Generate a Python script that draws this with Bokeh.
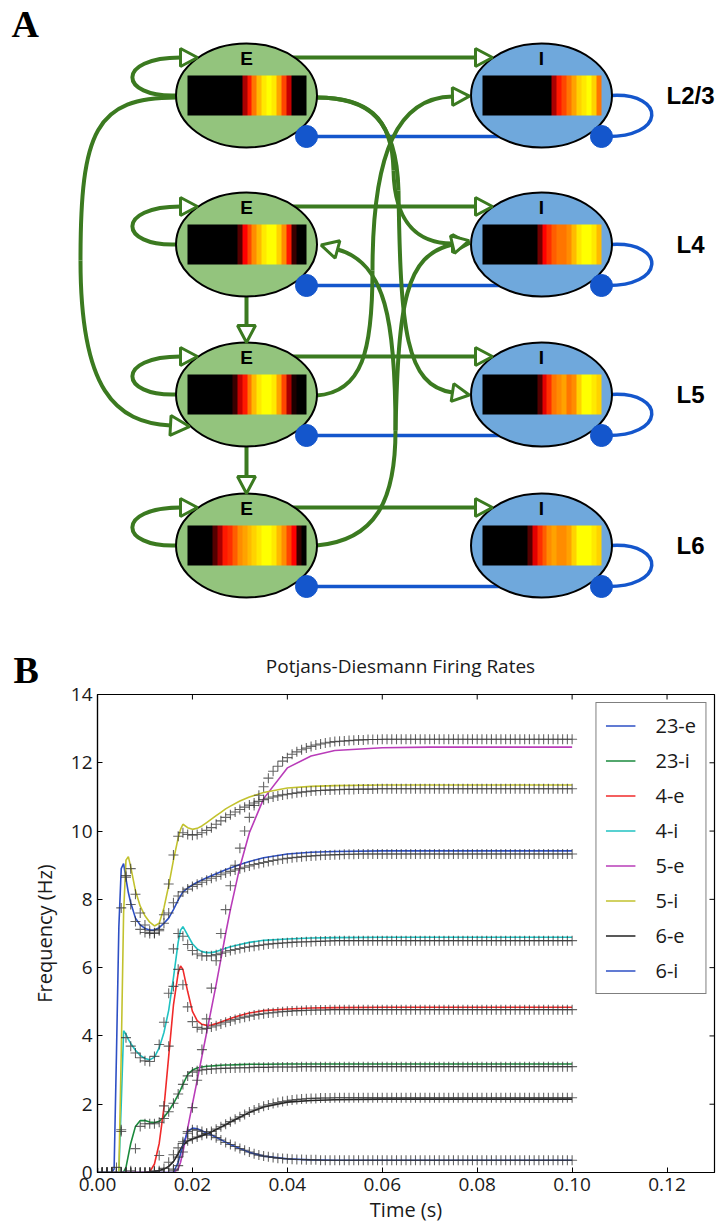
import numpy as np
from bokeh.plotting import figure
from bokeh.models import (Range1d, Legend, LegendItem, LinearAxis,
                          FixedTicker, PrintfTickFormatter, LinearColorMapper)
from bokeh.layouts import column
from bokeh.embed import file_html
from bokeh.resources import INLINE
from bokeh.core.properties import value

# ===================== DATA : panel A (network diagram) =====================
layer_names = ["L2/3", "L4", "L5", "L6"]
exc_name = "E"
inh_name = "I"

# activity profiles shown inside each population (0 = black, 1 = yellow)
heat_e23 = [0, 0, 0, 0, 0, 0, 0, 0, 0, 0, 0, 0.3, 0.5, 0.7, 0.85, 0.95, 1.0, 0.95, 0.8, 0.6, 0.35, 0, 0, 0]
heat_e4 = [0, 0, 0, 0, 0, 0, 0, 0, 0, 0, 0.15, 0.45, 0.6, 0.75, 0.85, 0.95, 1.0, 1.0, 0.9, 0.75, 0.5, 0.1, 0, 0]
heat_e5 = [0, 0, 0, 0, 0, 0, 0, 0, 0, 0.1, 0.35, 0.5, 0.7, 0.85, 0.95, 1.0, 1.0, 0.95, 0.8, 0.6, 0.3, 0.05, 0, 0]
heat_e6 = [0, 0, 0, 0, 0, 0.15, 0.3, 0.5, 0.55, 0.65, 0.75, 0.8, 0.85, 0.9, 0.95, 1.0, 1.0, 0.95, 0.85, 0.75, 0.6, 0.45, 0.1, 0]
heat_i23 = [0, 0, 0, 0, 0, 0, 0, 0, 0, 0, 0, 0, 0, 0, 0.3, 0.5, 0.6, 0.7, 0.8, 0.9, 0.95, 1.0, 0.9, 0.7]
heat_i4 = [0, 0, 0, 0, 0, 0, 0, 0, 0, 0, 0, 0.2, 0.45, 0.55, 0.65, 0.7, 0.7, 0.75, 0.85, 0.95, 1.0, 1.0, 0.95, 0.85]
heat_i5 = [0, 0, 0, 0, 0, 0, 0, 0, 0, 0, 0, 0.15, 0.4, 0.55, 0.7, 0.75, 0.8, 0.7, 0.75, 0.9, 1.0, 1.0, 0.95, 0.9]
heat_i6 = [0, 0, 0, 0, 0, 0, 0, 0, 0, 0.15, 0.4, 0.55, 0.65, 0.75, 0.8, 0.75, 0.75, 0.8, 0.9, 1.0, 1.0, 1.0, 0.95, 0.9]
heat_exc = [heat_e23, heat_e4, heat_e5, heat_e6]
heat_inh = [heat_i23, heat_i4, heat_i5, heat_i6]

# ===================== DATA : panel B (firing rates) =====================
chart_title = "Potjans-Diesmann Firing Rates"
series_names = ["23-e", "23-i", "4-e", "4-i", "5-e", "5-i", "6-e", "6-i"]
x_tick_values = [0.0, 0.02, 0.04, 0.06, 0.08, 0.10, 0.12]
y_tick_values = [0, 2, 4, 6, 8, 10, 12, 14]

t_model = [0.0, 0.001, 0.002, 0.003,
           0.0035, 0.004, 0.0045, 0.005, 0.0055, 0.006, 0.0065, 0.007,
           0.008, 0.009, 0.010, 0.011, 0.012, 0.013, 0.014, 0.015, 0.016, 0.017,
           0.0175,
           0.018, 0.019, 0.020, 0.021, 0.022, 0.023, 0.024, 0.025, 0.026, 0.027, 0.028,
           0.030, 0.032, 0.035, 0.040, 0.045, 0.050, 0.060, 0.070, 0.080, 0.100]

model_23e = [0, 0, 0, 0,
             0.1, 3.5, 7.2, 8.9, 9.05, 8.6, 8.2, 7.9,
             7.45, 7.25, 7.15, 7.1, 7.1, 7.17, 7.3, 7.45, 7.7, 7.98,
             8.1,
             8.22, 8.33, 8.42, 8.5, 8.57, 8.63, 8.69, 8.75, 8.81, 8.87, 8.92,
             9.02, 9.11, 9.22, 9.33, 9.38, 9.4, 9.42, 9.42, 9.42, 9.42]
model_23i = [0, 0, 0, 0,
             0, 0, 0, 0, 0.02, 0.15, 0.5, 0.85,
             1.35, 1.52, 1.52, 1.48, 1.46, 1.5, 1.62, 1.8, 2.02, 2.28,
             2.42,
             2.58, 2.87, 3.0, 3.06, 3.09, 3.11, 3.12, 3.13, 3.14, 3.15, 3.15,
             3.16, 3.17, 3.17, 3.18, 3.18, 3.18, 3.18, 3.18, 3.18, 3.18]
model_4e = [0, 0, 0, 0,
            0, 0, 0, 0, 0, 0, 0, 0,
            0, 0, 0, 0.02, 0.25, 0.85, 1.9, 3.4, 4.9, 5.85,
            6.05,
            5.95, 5.3, 4.72, 4.45, 4.34, 4.31, 4.32, 4.36, 4.41, 4.46, 4.51,
            4.6, 4.67, 4.74, 4.79, 4.82, 4.83, 4.84, 4.84, 4.84, 4.84]
model_4i = [0, 0, 0, 0,
            0, 0, 0, 2.0, 4.15, 4.05, 3.9, 3.78,
            3.58, 3.43, 3.34, 3.3, 3.38, 3.65, 4.1, 4.75, 5.7, 6.75,
            7.1,
            7.2, 6.95, 6.7, 6.55, 6.47, 6.44, 6.44, 6.47, 6.52, 6.57, 6.61,
            6.68, 6.74, 6.8, 6.84, 6.87, 6.88, 6.89, 6.89, 6.89, 6.89]
model_5e = [0, 0, 0, 0,
            0, 0, 0, 0, 0, 0, 0, 0,
            0, 0, 0, 0, 0, 0, 0, 0, 0, 0.1,
            0.3,
            0.6, 1.3, 2.0, 2.7, 3.4, 4.1, 4.8, 5.5, 6.25, 7.0, 7.7,
            8.95, 9.95, 10.95, 11.85, 12.2, 12.36, 12.44, 12.46, 12.46, 12.46]
model_5i = [0, 0, 0, 0,
            0, 0, 0, 3.5, 7.6, 9.15, 9.25, 8.95,
            8.25, 7.8, 7.52, 7.33, 7.22, 7.3, 7.75, 8.4, 9.15, 9.8,
            10.05,
            10.2, 10.1, 10.05, 10.08, 10.15, 10.25, 10.35, 10.45, 10.55, 10.65, 10.73,
            10.88, 11.0, 11.13, 11.26, 11.31, 11.33, 11.35, 11.35, 11.35, 11.35]
model_6e = [0, 0, 0, 0,
            0, 0, 0, 0, 0, 0, 0, 0,
            0, 0, 0, 0.01, 0.03, 0.06, 0.1, 0.18, 0.32, 0.55,
            0.68,
            0.8, 0.92, 0.98, 1.03, 1.08, 1.13, 1.19, 1.26, 1.33, 1.4, 1.48,
            1.62, 1.76, 1.92, 2.06, 2.11, 2.13, 2.15, 2.15, 2.15, 2.15]
model_6i = [0, 0, 0, 0,
            0, 0, 0, 0, 0, 0, 0, 0,
            0, 0, 0, 0, 0, 0, 0, 0, 0, 0.3,
            0.55,
            0.8, 1.2, 1.3, 1.28, 1.22, 1.16, 1.1, 1.03, 0.96, 0.89, 0.82,
            0.7, 0.59, 0.48, 0.4, 0.37, 0.36, 0.36, 0.36, 0.36, 0.36]

# simulation samples, one every millisecond from 0.000 s to 0.100 s
t_sim = [round(0.001 * k, 3) for k in range(101)]

sim_23e = [0, 0, 0, 0, 0.15, 7.75, 8.65, 7.85, 7.35, 7.12,
           7.03, 7.0, 7.0, 7.08, 7.3, 7.6, 7.9, 8.1, 8.22, 8.3,
           8.38, 8.44, 8.5, 8.56, 8.62, 8.67, 8.72, 8.77, 8.82, 8.86,
           8.9, 8.94, 8.98, 9.02, 9.05, 9.08, 9.11, 9.14, 9.16, 9.18,
           9.2, 9.22, 9.23, 9.25, 9.26, 9.27, 9.28, 9.29, 9.3, 9.3,
           9.31, 9.31, 9.32, 9.32, 9.32, 9.33, 9.33, 9.33, 9.33, 9.33,
           9.33, 9.33, 9.33, 9.33, 9.33, 9.33, 9.33, 9.33, 9.33, 9.33,
           9.33, 9.33, 9.33, 9.33, 9.33, 9.33, 9.33, 9.33, 9.33, 9.33,
           9.33, 9.33, 9.33, 9.33, 9.33, 9.33, 9.33, 9.33, 9.33, 9.33,
           9.33, 9.33, 9.33, 9.33, 9.33, 9.33, 9.33, 9.33, 9.33, 9.33,
           9.33]
sim_23i = [0, 0, 0, 0, 0, 0, 0, 0.05, 0.7, 1.35,
           1.43, 1.43, 1.43, 1.47, 1.58, 1.78, 2.03, 2.3, 2.58, 2.83,
           2.94, 2.98, 3.0, 3.02, 3.03, 3.04, 3.05, 3.05, 3.06, 3.06,
           3.07, 3.07, 3.07, 3.08, 3.08, 3.08, 3.08, 3.09, 3.09, 3.09,
           3.09, 3.09, 3.09, 3.1, 3.1, 3.1, 3.1, 3.1, 3.1, 3.1,
           3.1, 3.1, 3.1, 3.1, 3.1, 3.1, 3.1, 3.1, 3.1, 3.1,
           3.1, 3.1, 3.1, 3.1, 3.1, 3.1, 3.1, 3.1, 3.1, 3.1,
           3.1, 3.1, 3.1, 3.1, 3.1, 3.1, 3.1, 3.1, 3.1, 3.1,
           3.1, 3.1, 3.1, 3.1, 3.1, 3.1, 3.1, 3.1, 3.1, 3.1,
           3.1, 3.1, 3.1, 3.1, 3.1, 3.1, 3.1, 3.1, 3.1, 3.1,
           3.1]
sim_4e = [0, 0, 0, 0, 0, 0, 0, 0, 0, 0,
          0, 0, 0.05, 0.5, 1.95, 3.7, 5.45, 5.95, 5.5, 4.85,
          4.42, 4.25, 4.2, 4.22, 4.26, 4.3, 4.35, 4.4, 4.44, 4.48,
          4.52, 4.55, 4.58, 4.61, 4.63, 4.65, 4.67, 4.68, 4.7, 4.71,
          4.72, 4.73, 4.74, 4.74, 4.75, 4.75, 4.76, 4.76, 4.76, 4.77,
          4.77, 4.77, 4.77, 4.77, 4.77, 4.77, 4.77, 4.77, 4.77, 4.77,
          4.77, 4.77, 4.77, 4.77, 4.77, 4.77, 4.77, 4.77, 4.77, 4.77,
          4.77, 4.77, 4.77, 4.77, 4.77, 4.77, 4.77, 4.77, 4.77, 4.77,
          4.77, 4.77, 4.77, 4.77, 4.77, 4.77, 4.77, 4.77, 4.77, 4.77,
          4.77, 4.77, 4.77, 4.77, 4.77, 4.77, 4.77, 4.77, 4.77, 4.77,
          4.77]
sim_4i = [0, 0, 0, 0, 0, 1.2, 3.95, 3.7, 3.5, 3.36,
          3.27, 3.25, 3.4, 3.75, 4.4, 5.25, 6.55, 7.0, 6.92, 6.68,
          6.5, 6.4, 6.35, 6.34, 6.35, 6.38, 6.42, 6.46, 6.5, 6.53,
          6.56, 6.59, 6.61, 6.63, 6.65, 6.67, 6.69, 6.7, 6.71, 6.72,
          6.73, 6.74, 6.75, 6.75, 6.76, 6.76, 6.77, 6.77, 6.78, 6.78,
          6.79, 6.79, 6.79, 6.79, 6.79, 6.79, 6.79, 6.79, 6.79, 6.79,
          6.79, 6.79, 6.79, 6.79, 6.79, 6.79, 6.79, 6.79, 6.79, 6.79,
          6.79, 6.79, 6.79, 6.79, 6.79, 6.79, 6.79, 6.79, 6.79, 6.79,
          6.79, 6.79, 6.79, 6.79, 6.79, 6.79, 6.79, 6.79, 6.79, 6.79,
          6.79, 6.79, 6.79, 6.79, 6.79, 6.79, 6.79, 6.79, 6.79, 6.79,
          6.79]
sim_5e = [0, 0, 0, 0, 0, 0, 0, 0, 0, 0,
          0, 0, 0, 0, 0, 0, 0.05, 0.2, 0.6, 1.2,
          1.9, 2.7, 3.6, 4.5, 5.4, 6.2, 7.0, 7.7, 8.4, 9.0,
          9.5, 10.0, 10.4, 10.75, 11.05, 11.3, 11.55, 11.75, 11.9, 12.05,
          12.15, 12.25, 12.32, 12.38, 12.43, 12.48, 12.52, 12.55, 12.58, 12.6,
          12.62, 12.63, 12.64, 12.65, 12.66, 12.67, 12.67, 12.68, 12.68, 12.68,
          12.69, 12.69, 12.69, 12.69, 12.69, 12.69, 12.69, 12.69, 12.69, 12.69,
          12.69, 12.69, 12.69, 12.69, 12.69, 12.69, 12.69, 12.69, 12.69, 12.69,
          12.69, 12.69, 12.69, 12.69, 12.69, 12.69, 12.69, 12.69, 12.69, 12.69,
          12.69, 12.69, 12.69, 12.69, 12.69, 12.69, 12.69, 12.69, 12.69, 12.69,
          12.69]
sim_5i = [0, 0, 0, 0, 0, 1.25, 8.7, 8.9, 8.15, 7.6,
          7.25, 7.08, 7.02, 7.12, 7.55, 8.45, 9.3, 9.85, 9.95, 9.9,
          9.88, 9.9, 9.95, 10.02, 10.1, 10.2, 10.3, 10.4, 10.48, 10.56,
          10.63, 10.7, 10.76, 10.82, 10.87, 10.92, 10.96, 11.0, 11.03, 11.06,
          11.08, 11.1, 11.12, 11.14, 11.15, 11.17, 11.18, 11.19, 11.2, 11.2,
          11.21, 11.21, 11.22, 11.22, 11.22, 11.23, 11.23, 11.23, 11.23, 11.24,
          11.24, 11.24, 11.24, 11.24, 11.24, 11.24, 11.24, 11.24, 11.24, 11.24,
          11.24, 11.24, 11.24, 11.24, 11.24, 11.24, 11.24, 11.24, 11.24, 11.24,
          11.24, 11.24, 11.24, 11.24, 11.24, 11.24, 11.24, 11.24, 11.24, 11.24,
          11.24, 11.24, 11.24, 11.24, 11.24, 11.24, 11.24, 11.24, 11.24, 11.24,
          11.24]
sim_6e = [0, 0, 0, 0, 0, 0, 0, 0, 0, 0,
          0, 0.01, 0.02, 0.05, 0.12, 0.3, 0.52, 0.72, 0.85, 0.93,
          0.99, 1.04, 1.09, 1.14, 1.2, 1.27, 1.34, 1.41, 1.49, 1.56,
          1.63, 1.7, 1.77, 1.83, 1.89, 1.94, 1.98, 2.02, 2.05, 2.08,
          2.1, 2.12, 2.14, 2.15, 2.16, 2.17, 2.17, 2.18, 2.18, 2.18,
          2.19, 2.19, 2.19, 2.19, 2.19, 2.19, 2.19, 2.19, 2.19, 2.19,
          2.19, 2.19, 2.19, 2.19, 2.19, 2.19, 2.19, 2.19, 2.19, 2.19,
          2.19, 2.19, 2.19, 2.19, 2.19, 2.19, 2.19, 2.19, 2.19, 2.19,
          2.19, 2.19, 2.19, 2.19, 2.19, 2.19, 2.19, 2.19, 2.19, 2.19,
          2.19, 2.19, 2.19, 2.19, 2.19, 2.19, 2.19, 2.19, 2.19, 2.19,
          2.19]
sim_6i = [0, 0, 0, 0, 0, 0, 0, 0, 0, 0,
          0, 0, 0, 0, 0, 0, 0.1, 0.45, 0.9, 1.15,
          1.25, 1.24, 1.2, 1.15, 1.09, 1.02, 0.95, 0.88, 0.82, 0.76,
          0.7, 0.65, 0.6, 0.55, 0.51, 0.48, 0.46, 0.44, 0.42, 0.41,
          0.4, 0.39, 0.38, 0.38, 0.37, 0.37, 0.37, 0.36, 0.36, 0.36,
          0.36, 0.36, 0.36, 0.36, 0.36, 0.36, 0.36, 0.36, 0.36, 0.36,
          0.36, 0.36, 0.36, 0.36, 0.36, 0.36, 0.36, 0.36, 0.36, 0.36,
          0.36, 0.36, 0.36, 0.36, 0.36, 0.36, 0.36, 0.36, 0.36, 0.36,
          0.36, 0.36, 0.36, 0.36, 0.36, 0.36, 0.36, 0.36, 0.36, 0.36,
          0.36, 0.36, 0.36, 0.36, 0.36, 0.36, 0.36, 0.36, 0.36, 0.36,
          0.36]

model_series = [model_23e, model_23i, model_4e, model_4i, model_5e, model_5i, model_6e, model_6i]
sim_series = [sim_23e, sim_23i, sim_4e, sim_4i, sim_5e, sim_5i, sim_6e, sim_6i]

# ===================== STYLE =====================
W = 718
HA = 690      # diagram + header band of panel B
OVERLAP = 12  # chart figure slides up under the header band (transparent border)
HB = 1225 - HA + OVERLAP
GREEN = "#3b7a20"
BLUE = "#1456cc"
E_FILL = "#93c47d"
I_FILL = "#6fa8dc"
SANS = "Liberation Sans"
FONT_B = "Open Sans"
LINE_COLORS = ["#2d4fc4", "#1a8a3c", "#f02a2a", "#20c2c2", "#b93cb9", "#c2c22e", "#222222", "#2d4fc4"]

EX, IX = 246, 541            # centre x of E and I populations (px)
ROW_Y = [95, 244, 394, 545]  # centre y of each layer (px, from top)
EW, EH = 141, 104


def hot(v):
    r = min(1.0, v / 0.45)
    g = max(0.0, (v - 0.45) / 0.55)
    return "#%02x%02x%02x" % (int(round(255 * r)), int(round(255 * g)), 0)


HOT256 = [hot(i / 255.0) for i in range(256)]


def Y(ypx):
    return HA - ypx


# ===================== PANEL A =====================
pa = figure(width=W, height=HA, x_range=Range1d(0, W), y_range=Range1d(0, HA),
            output_backend="svg", toolbar_location=None, min_border=0,
            x_axis_location=None, y_axis_location=None)
pa.grid.visible = False
pa.outline_line_color = None
pa.background_fill_color = "white"

segs = []
heads = []


def curve(pts, head=True, L=17.0, hw=9.0):
    for k in range(0, len(pts) - 1, 3):
        segs.append(pts[k:k + 4])
    if head:
        (cx, cy), (ex_, ey_) = pts[-2], pts[-1]
        d = np.array([ex_ - cx, ey_ - cy], float)
        d /= np.hypot(d[0], d[1])
        n = np.array([-d[1], d[0]])
        b = np.array([ex_, ey_], float)
        tip = b + L * d
        heads.append([tuple(tip), tuple(b + hw * n), tuple(b - hw * n)])


def straight(p0, p1, **kw):
    p0 = np.array(p0, float)
    p1 = np.array(p1, float)
    curve([tuple(p0), tuple(p0 + (p1 - p0) / 3), tuple(p0 + 2 * (p1 - p0) / 3), tuple(p1)], **kw)


for y in ROW_Y:
    curve([(EX - 70, y), (EX - 128, y + 2), (EX - 131, y - 38), (EX - 66, y - 38)])
    straight((EX, y - 38), (IX - 66, y - 38))
straight((EX, ROW_Y[1] + EH / 2), (EX, ROW_Y[2] - EH / 2 - 17))
straight((EX, ROW_Y[2] + EH / 2), (EX, ROW_Y[3] - EH / 2 - 17))
# L2/3 E -> L5 E
curve([(176, 97), (95, 97), (80, 130), (80, 260), (80, 390), (115, 422), (170, 425)], L=19, hw=10)
# L2/3 E -> L4 I
curve([(316, 97), (365, 97), (392, 115), (393, 170), (394, 225), (420, 243), (452, 243)])
# L2/3 E -> L5 I
curve([(316, 97), (368, 97), (396, 118), (398, 190), (400, 330), (405, 385), (452, 392)])
# L5 E -> L2/3 I
curve([(316, 395), (362, 392), (372, 350), (372, 270), (372, 150), (398, 97), (452, 96)])
# L6 E -> L4 E
curve([(316, 545), (375, 540), (395, 500), (395, 430), (395, 320), (385, 262), (337, 249)])
# L6 E -> L4 I
curve([(395, 430), (398, 300), (405, 255), (452, 244)])

# inhibitory projections (drawn first, below)
pa.segment(x0=[EX + 60] * 4, y0=[Y(y + 41) for y in ROW_Y],
           x1=[IX] * 4, y1=[Y(y + 41) for y in ROW_Y],
           line_color=BLUE, line_width=3.5)
pa.bezier(x0=[IX + 70] * 4, y0=[Y(y) for y in ROW_Y],
          cx0=[IX + 125] * 4, cy0=[Y(y - 3) for y in ROW_Y],
          cx1=[IX + 125] * 4, cy1=[Y(y + 43) for y in ROW_Y],
          x1=[IX + 62] * 4, y1=[Y(y + 41) for y in ROW_Y],
          line_color=BLUE, line_width=3.5)

# excitatory projections
pa.bezier(x0=[s[0][0] for s in segs], y0=[Y(s[0][1]) for s in segs],
          cx0=[s[1][0] for s in segs], cy0=[Y(s[1][1]) for s in segs],
          cx1=[s[2][0] for s in segs], cy1=[Y(s[2][1]) for s in segs],
          x1=[s[3][0] for s in segs], y1=[Y(s[3][1]) for s in segs],
          line_color=GREEN, line_width=4)

# populations
pa.ellipse(x=[EX] * 4, y=[Y(y) for y in ROW_Y], width=EW, height=EH,
           fill_color=E_FILL, line_color="black", line_width=2)
pa.ellipse(x=[IX] * 4, y=[Y(y) for y in ROW_Y], width=EW, height=EH,
           fill_color=I_FILL, line_color="black", line_width=2)

# activity heat maps
imgs, ix_, iy_ = [], [], []
for cx, profiles in ((EX, heat_exc), (IX, heat_inh)):
    for y, prof in zip(ROW_Y, profiles):
        imgs.append(np.array([prof, prof], dtype=float))
        ix_.append(cx - 59)
        iy_.append(Y(y + 20))
hot_mapper = LinearColorMapper(palette=HOT256, low=0.0, high=1.0)
pa.image(image=imgs, x=ix_, y=iy_, dw=119, dh=40, color_mapper=hot_mapper)

# synapse dots
pa.scatter(x=[EX + 60] * 4 + [IX + 60] * 4, y=[Y(y + 41) for y in ROW_Y] * 2,
           marker="circle", size=22, fill_color=BLUE, line_color=BLUE)

# arrow heads
pa.patches(xs=[[p[0] for p in h] for h in heads], ys=[[Y(p[1]) for p in h] for h in heads],
           fill_color="white", line_color=GREEN, line_width=3)

# texts
pa.text(x=[EX] * 4 + [IX] * 4, y=[Y(y - 37) for y in ROW_Y] * 2,
        text=[exc_name] * 4 + [inh_name] * 4,
        text_font=value(SANS), text_font_style="bold", text_font_size="19px",
        text_align="center", text_baseline="middle", text_color="black")
pa.text(x=[690] * 4, y=[Y(y) for y in ROW_Y], text=layer_names,
        text_font=value(SANS), text_font_style="bold", text_font_size="24px",
        text_align="center", text_baseline="middle", text_color="black")
# panel letters
pa.text(x=[11, 13], y=[Y(23), Y(669)], text=["A", "B"], text_font=value("Liberation Serif"),
        text_font_style="bold", text_font_size="38px", text_align="left",
        text_baseline="middle", text_color="black")
# title of the firing-rate chart (sits just above its frame)
pa.text(x=[400], y=[Y(665)], text=[chart_title], text_font=value(FONT_B),
        text_font_size="19px", text_align="center", text_baseline="middle",
        text_color="#1a1a1a")

# ===================== PANEL B =====================
X0, X1, Y0, Y1 = 0.0, 0.13, 0.0, 14.0
pb = figure(width=W, height=HB, x_range=Range1d(X0, X1), y_range=Range1d(Y0, Y1),
            output_backend="svg", toolbar_location=None,
            min_border_left=97, min_border_right=4, min_border_top=4 + OVERLAP,
            min_border_bottom=50, x_axis_location=None, y_axis_location=None)
pb.grid.visible = False
pb.outline_line_color = "black"
pb.outline_line_width = 1.2
pb.border_fill_color = None
pb.background_fill_color = "white"
pb.margin = (-OVERLAP, 0, 0, 0)

for _p in (pa, pb):
    try:
        _p.frame_align = False
    except Exception:
        pass

xticker = FixedTicker(ticks=x_tick_values)
yticker = FixedTicker(ticks=y_tick_values)


def style_axis(ax):
    ax.axis_line_color = "black"
    ax.axis_line_width = 1.2
    ax.major_tick_in = 5
    ax.major_tick_out = 0
    ax.major_tick_line_color = "black"
    ax.minor_tick_line_color = None
    ax.major_label_text_font = FONT_B
    ax.major_label_text_color = "#1a1a1a"
    ax.major_label_text_font_size = "19px"
    ax.axis_label_text_font = FONT_B
    ax.axis_label_text_font_style = "normal"
    ax.axis_label_text_font_size = "20px"
    ax.axis_label_text_color = "#1a1a1a"


xb = LinearAxis(ticker=xticker, formatter=PrintfTickFormatter(format="%.2f"), axis_label="Time (s)")
style_axis(xb)
xb.major_label_standoff = 5
xb.axis_label_standoff = 2
yl = LinearAxis(ticker=yticker, formatter=PrintfTickFormatter(format="%d"), axis_label="Frequency (Hz)")
style_axis(yl)
yl.major_label_standoff = 5
yl.axis_label_standoff = 10
pb.add_layout(xb, "below")
pb.add_layout(yl, "left")

# inward ticks on the top and right edges of the frame (mirrors of the axis ticks)
tick_dy = 5 * (Y1 - Y0) / 478.0
tick_dx = 5 * (X1 - X0) / 617.0
pb.segment(x0=x_tick_values, y0=[Y1] * len(x_tick_values),
           x1=x_tick_values, y1=[Y1 - tick_dy] * len(x_tick_values),
           line_color="black", line_width=1)
pb.segment(x0=[X1] * len(y_tick_values), y0=y_tick_values,
           x1=[X1 - tick_dx] * len(y_tick_values), y1=y_tick_values,
           line_color="black", line_width=1)

items = []
for name, vals, col in zip(series_names, model_series, LINE_COLORS):
    r = pb.line(t_model, vals, line_color=col, line_width=1.6)
    items.append(LegendItem(label=name, renderers=[r]))
for vals in sim_series:
    pb.scatter(t_sim, vals, marker="cross", size=10, line_color="#333333",
               line_alpha=0.75, line_width=1.1)

legend = Legend(items=items, location="top_right",
                label_text_font=FONT_B, label_text_font_size="20px",
                label_text_color="#1a1a1a",
                border_line_color="black", border_line_width=1.2,
                padding=9, spacing=8, label_height=21, glyph_height=21,
                glyph_width=30, label_standoff=20, margin=8,
                background_fill_color="white", background_fill_alpha=1.0)
pb.add_layout(legend)

layout = column(pa, pb)
open("out.html", "w").write(file_html(layout, INLINE))
